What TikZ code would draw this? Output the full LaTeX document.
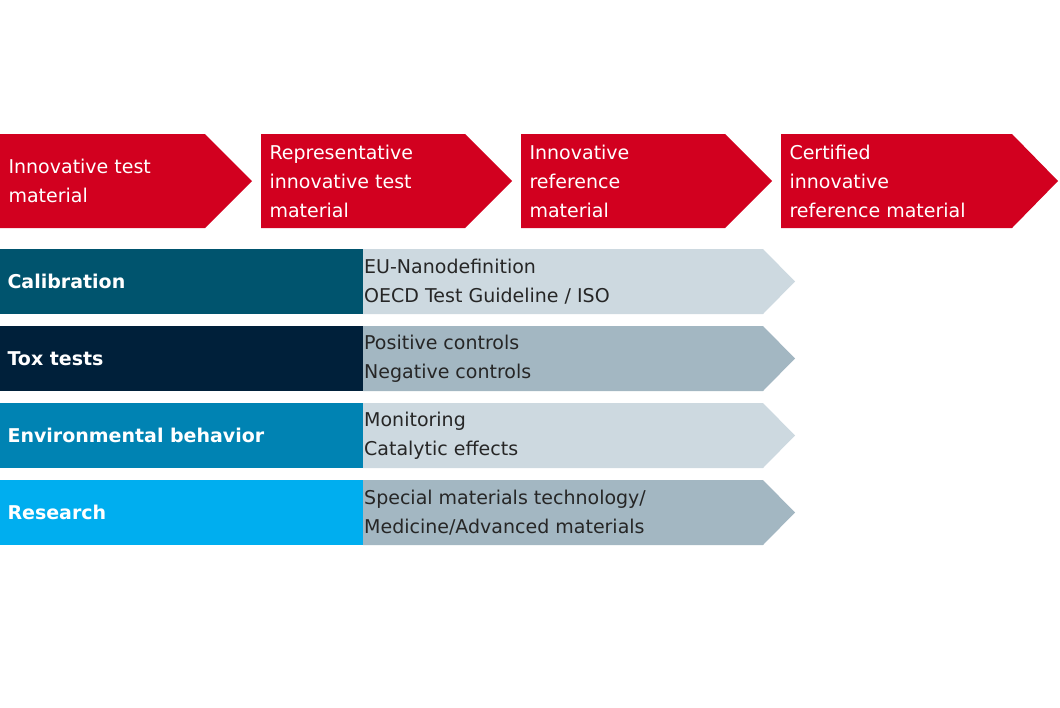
\documentclass[tikz,border=0pt]{standalone}
\usepackage{fontspec}
\setmainfont{DejaVu Sans}
\definecolor{rd}{HTML}{D2001F}
\definecolor{cal}{HTML}{00546E}
\definecolor{tox}{HTML}{00203A}
\definecolor{env}{HTML}{0083B3}
\definecolor{res}{HTML}{00AEEF}
\definecolor{gl}{HTML}{CDD9E0}
\definecolor{gd}{HTML}{A3B7C2}
\begin{document}
\begin{tikzpicture}[x=1pt,y=-1pt,
  rt/.style={text=white,font=\fontsize{19}{29}\selectfont,align=left,anchor=west},
  lab/.style={text=white,font=\bfseries\fontsize{19}{29}\selectfont,anchor=west},
  gt/.style={text=black!85,font=\fontsize{19}{29}\selectfont,align=left,anchor=west,inner sep=0pt}]
\useasboundingbox (0,0) rectangle (1060,707);
% red chevrons
\foreach \a/\b/\c in {0/205/252,261/465/512,521/725/772,781/1012/1058}
  \fill[rd] (\a,134) -- (\b,134) -- (\c,181) -- (\b,228) -- (\a,228) -- cycle;
\node[rt] (r1) at (5,181) {Innovative test\\material};
\node[rt] (r2) at (266,181) {Representative\\innovative test\\material};
\node[rt] (r3) at (526,181) {Innovative\\reference\\material};
\node[rt] (r4) at (786,181) {Certified\\innovative\\reference material};
% rows
\foreach \t/\c/\g in {249/cal/gl,326/tox/gd,403/env/gl,480/res/gd}{
  \fill[\c] (0,\t) rectangle (363,\t+65);
  \fill[\g] (363,\t) -- (763,\t) -- (795,\t+32.5) -- (763,\t+65) -- (363,\t+65) -- cycle;
}
\node[lab] (l1) at (4,281.5) {Calibration};
\node[lab] (l2) at (4,358.5) {Tox tests};
\node[lab] (l3) at (4,435.5) {Environmental behavior};
\node[lab] (l4) at (4,512.5) {Research};
\node[gt] (g1) at (364,281.5) {EU-Nanodefinition\\OECD Test Guideline / ISO};
\node[gt] (g2) at (364,358.5) {Positive controls\\Negative controls};
\node[gt] (g3) at (364,435.5) {Monitoring\\Catalytic effects};
\node[gt] (g4) at (364,512.5) {Special materials technology/\\Medicine/Advanced materials};
\end{tikzpicture}
\end{document}
